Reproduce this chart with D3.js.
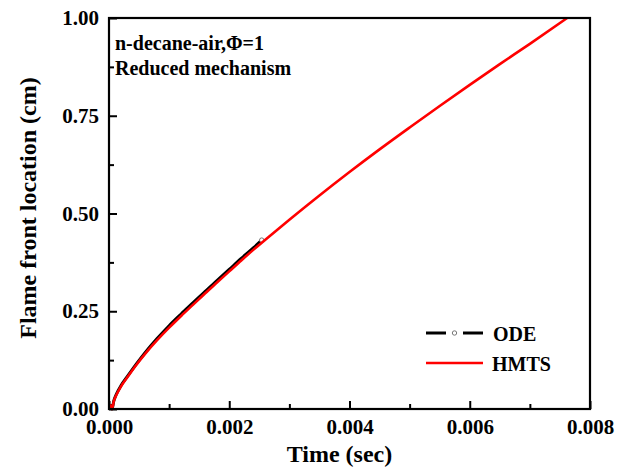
<!DOCTYPE html>
<html>
<head>
<meta charset="utf-8">
<script src="https://cdn.jsdelivr.net/npm/d3@7"></script>
<style>
  html, body { margin: 0; padding: 0; background: #fff; }
  svg text { font-family: "Liberation Serif", "Times New Roman", serif; font-weight: bold; fill: #000; }
</style>
</head>
<body>
<svg id="chart" width="629" height="470"></svg>
<script>
// Flame front position vs. time (n-decane/air, equivalence ratio 1)
const odeTime = [0.000017, 0.00005, 0.00008, 0.00012, 0.0002, 0.0003, 0.00045, 0.0006, 0.0008, 0.001, 0.0012, 0.0014, 0.0016, 0.0018, 0.002, 0.0022, 0.0024, 0.00254];
const odeLoc  = [0.012, 0.0, 0.021, 0.037, 0.060, 0.082, 0.114, 0.144, 0.180, 0.213, 0.243, 0.272, 0.301, 0.329, 0.357, 0.385, 0.412, 0.432];

const hmtsTime = [0.000017, 0.00005, 0.00008, 0.00012, 0.0002, 0.0003, 0.00045, 0.0006, 0.0008, 0.001, 0.0012, 0.0014, 0.0016, 0.0018, 0.002, 0.0022, 0.0024, 0.0026, 0.003, 0.0035, 0.004, 0.0045, 0.005, 0.0055, 0.006, 0.0065, 0.007, 0.00762];
const hmtsLoc  = [0.012, 0.0, 0.020, 0.035, 0.058, 0.080, 0.112, 0.141, 0.176, 0.208, 0.238, 0.267, 0.296, 0.324, 0.352, 0.380, 0.407, 0.433, 0.484, 0.546, 0.606, 0.664, 0.720, 0.775, 0.829, 0.882, 0.934, 1.0];

const xMajor = [0, 0.002, 0.004, 0.006, 0.008];
const xMinor = [0.001, 0.003, 0.005, 0.007];
const yMajor = [0, 0.25, 0.5, 0.75, 1.0];
const yMinor = [0.125, 0.375, 0.625, 0.875];

const seriesNames = ["ODE", "HMTS"];
const seriesColors = ["#000000", "#ff0000"];

const svg = d3.select("#chart");
const margin = { left: 109, top: 18, right: 39, bottom: 61 };
const W = 629 - margin.left - margin.right;
const H = 470 - margin.top - margin.bottom;

const x = d3.scaleLinear().domain([0, 0.008]).range([0, W]);
const y = d3.scaleLinear().domain([0, 1]).range([H, 0]);

const g = svg.append("g").attr("transform", `translate(${margin.left},${margin.top})`);

// minor ticks
g.append("g").attr("transform", `translate(0,${H})`)
  .call(d3.axisBottom(x).tickValues(xMinor).tickSize(-5).tickFormat(""))
  .call(a => a.select(".domain").remove())
  .selectAll("line").attr("stroke-width", 2);
g.append("g")
  .call(d3.axisLeft(y).tickValues(yMinor).tickSize(-5).tickFormat(""))
  .call(a => a.select(".domain").remove())
  .selectAll("line").attr("stroke-width", 2);

// major ticks with labels
const xAx = g.append("g").attr("transform", `translate(0,${H})`)
  .call(d3.axisBottom(x).tickValues(xMajor).tickSize(-8).tickPadding(10).tickFormat(d3.format(".3f")));
xAx.select(".domain").remove();
xAx.selectAll("line").attr("stroke-width", 2);
xAx.selectAll("text").style("font-size", "21px").attr("fill", "#000");

const yAx = g.append("g")
  .call(d3.axisLeft(y).tickValues(yMajor).tickSize(-8).tickPadding(10).tickFormat(d3.format(".2f")));
yAx.select(".domain").remove();
yAx.selectAll("line").attr("stroke-width", 2);
yAx.selectAll("text").style("font-size", "21px").attr("fill", "#000");

// data lines
const line = d3.line().x(d => x(d[0])).y(d => y(d[1])).curve(d3.curveMonotoneX);
const odeData = odeTime.map((t, i) => [t, odeLoc[i]]);
const hmtsData = hmtsTime.map((t, i) => [t, hmtsLoc[i]]);

g.append("path").datum(odeData).attr("d", line)
  .attr("fill", "none").attr("stroke", seriesColors[0]).attr("stroke-width", 3);
const last = odeData[odeData.length - 1];
g.append("circle").attr("cx", x(last[0])).attr("cy", y(last[1])).attr("r", 2.2)
  .attr("fill", "#fff").attr("stroke", "#777").attr("stroke-width", 1);
g.append("path").datum(hmtsData).attr("d", line)
  .attr("fill", "none").attr("stroke", seriesColors[1]).attr("stroke-width", 2.6);

// frame
g.append("rect").attr("x", 0).attr("y", 0).attr("width", W).attr("height", H)
  .attr("fill", "none").attr("stroke", "#000").attr("stroke-width", 2.2);

// annotations
g.append("text").attr("x", 6).attr("y", 32).style("font-size", "20px").text("n-decane-air,Φ=1");
g.append("text").attr("x", 6).attr("y", 57).style("font-size", "20px").text("Reduced mechanism");

// legend
const lg = g.append("g").attr("transform", `translate(${426 - margin.left},${333 - margin.top})`);
lg.append("line").attr("x1", 0).attr("x2", 20).attr("y1", 0).attr("y2", 0)
  .attr("stroke", seriesColors[0]).attr("stroke-width", 3);
lg.append("line").attr("x1", 37).attr("x2", 57).attr("y1", 0).attr("y2", 0)
  .attr("stroke", seriesColors[0]).attr("stroke-width", 3);
lg.append("circle").attr("cx", 28.5).attr("cy", 0).attr("r", 2.2)
  .attr("fill", "#fff").attr("stroke", "#777").attr("stroke-width", 1);
lg.append("text").attr("x", 67).attr("y", 8).style("font-size", "20px").text(seriesNames[0]);
lg.append("line").attr("x1", 0).attr("x2", 57).attr("y1", 30).attr("y2", 30)
  .attr("stroke", seriesColors[1]).attr("stroke-width", 2.6);
lg.append("text").attr("x", 66).attr("y", 38).style("font-size", "20px").text(seriesNames[1]);

// axis titles
svg.append("text").attr("x", margin.left + W / 2 - 10).attr("y", 462)
  .attr("text-anchor", "middle").style("font-size", "24px").text("Time (sec)");
svg.append("text").attr("transform", `translate(36,${208}) rotate(-90)`)
  .attr("text-anchor", "middle").style("font-size", "24px").text("Flame front location (cm)");
</script>
</body>
</html>
